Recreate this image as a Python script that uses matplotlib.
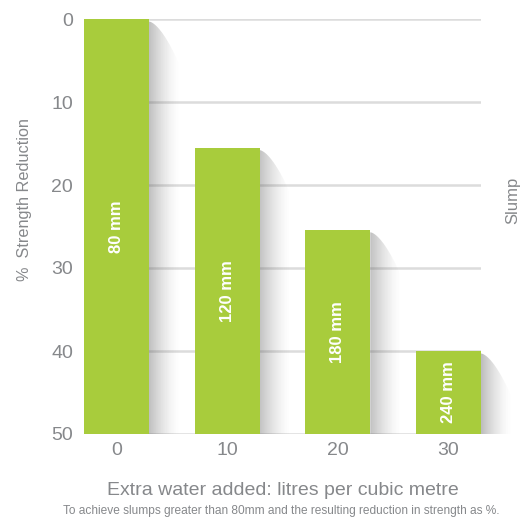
import numpy as np
import matplotlib.pyplot as plt

# values
water = [0, 10, 20, 30]
reduction = [0, 15.5, 25.4, 40]
slump = ['80 mm', '120 mm', '180 mm', '240 mm']
yticks = [0, 10, 20, 30, 40, 50]

green = '#a8cc3c'
grey = '#86888b'
plt.rcParams['font.family'] = ['Liberation Sans', 'DejaVu Sans']

fig = plt.figure(figsize=(5.28, 5.23), dpi=100)
ax = fig.add_axes([84 / 528, 89 / 523, (481 - 84) / 528, (434 - 19) / 523])

width = 5.86
ax.set_xlim(-2.93, 32.93)
ax.set_ylim(50, 0)

for y in yticks:
    ax.axhline(y, color='#dcdcdc', lw=1.8, zorder=0)

# soft shadow to the right of each bar, built from thin fading strips
n = 30
sw = 2.7
for x, r in zip(water, reduction):
    x0 = x + width / 2
    for i in range(n):
        a, b = i / n, (i + 1) / n
        top_a = r + 0.3 + 5 * a ** 1.6
        top_b = r + 0.3 + 5 * b ** 1.6
        alpha = 0.38 * (1 - a) ** 1.5
        ax.fill([x0 + a * sw, x0 + b * sw, x0 + b * sw, x0 + a * sw],
                [top_a, top_b, 50, 50], color='#555555', alpha=alpha,
                lw=0, zorder=1, clip_on=False)

ax.bar(water, [50 - r for r in reduction], bottom=reduction, width=width,
       color=green, zorder=2)

for x, r, s in zip(water, reduction, slump):
    ax.text(x, (r + 50) / 2, s, rotation=90, ha='center', va='center',
            color='white', fontsize=12, fontweight='bold', zorder=3)

ax.set_yticks(yticks)
ax.set_xticks(water)
ax.tick_params(length=0, labelsize=14, colors=grey, pad=6)
ax.tick_params(axis='y', pad=8)
for sp in ax.spines.values():
    sp.set_visible(False)

ax.set_ylabel('%  Strength Reduction', fontsize=11.7, color=grey)
ax.yaxis.set_label_coords(-52 / 397, 1 - (200 - 19) / 415)
ax.set_xlabel('Extra water added: litres per cubic metre', fontsize=14,
              color=grey, labelpad=16)
fig.text(513 / 528, 1 - 200 / 523, 'Slump', rotation=90, ha='center',
         va='center', fontsize=12, color=grey)
fig.text(281 / 528, 1 - 511 / 523,
         'To achieve slumps greater than 80mm and the resulting reduction in strength as %.',
         ha='center', va='center', fontsize=8.6, color=grey)

fig.savefig('out.png', dpi=100, facecolor='white')
